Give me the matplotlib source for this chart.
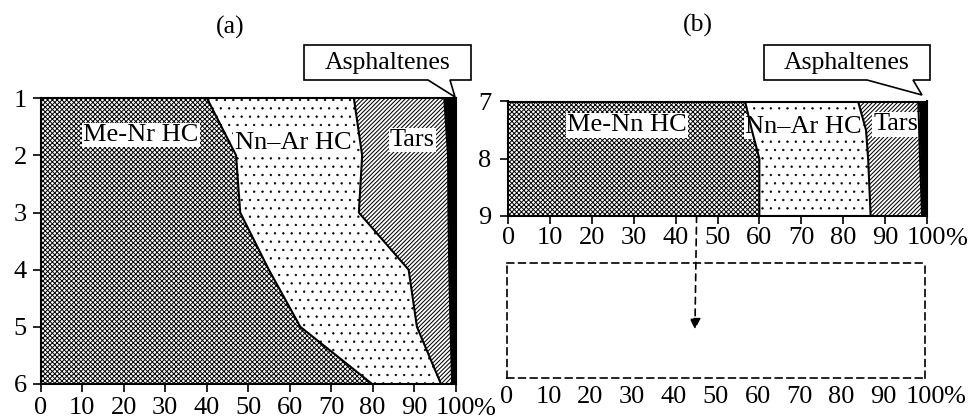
import numpy as np
import matplotlib as mpl
import matplotlib.pyplot as plt
from matplotlib.patches import Polygon, ConnectionPatch

plt.rcParams['font.family'] = ['Liberation Serif', 'DejaVu Serif']
plt.rcParams['font.size'] = 19
plt.rcParams['hatch.linewidth'] = 0.75

# group composition (%) vs depth
depth_a = [1, 2, 3, 4, 5, 6]
me_a = [40.1, 47.1, 48.1, 55.0, 62.6, 79.9]
nnar_a = [35.4, 30.4, 28.6, 33.7, 28.1, 16.6]
tars_a = [21.8, 20.7, 21.6, 9.8, 8.1, 2.7]
asph_a = [2.7, 1.8, 1.7, 1.5, 1.2, 0.8]

depth_b = [7, 7.5, 8, 9]
me_b = [56.6, 58.2, 60.0, 60.0]
nnar_b = [27.0, 27.3, 26.0, 26.6]
tars_b = [14.4, 12.7, 12.4, 12.3]
asph_b = [2.0, 1.8, 1.6, 1.1]

xticks = [0, 10, 20, 30, 40, 50, 60, 70, 80, 90, 100]
labels_a = ['Me-Nr HC', 'Nn–Ar HC', 'Tars']
labels_b = ['Me-Nn HC', 'Nn–Ar HC', 'Tars']
hatches = ['xxxxxxx', '..', '////////', None]
hatch_lw = [0.7, 0.45, 0.75, 0.75]

W, H = 968, 420
fig = plt.figure(figsize=(W / 100, H / 100), dpi=100)


def px_axes(l, t, r, b):
    return fig.add_axes([l / W, 1 - b / H, (r - l) / W, (b - t) / H])


def panel(ax, depth, parts, names, pos, pad_y):
    edges = np.vstack([np.zeros(len(depth)), np.cumsum(parts, axis=0)])
    edges[-1] = 100
    for i in range(4):
        if hatches[i] is None:
            ax.fill_betweenx(depth, edges[i], edges[i + 1], color='black', lw=0)
        else:
            with mpl.rc_context({'hatch.linewidth': hatch_lw[i]}):
                pc = ax.fill_betweenx(depth, edges[i], edges[i + 1], facecolor='white',
                                      edgecolor='black', hatch=hatches[i], lw=0)
            if hasattr(pc, 'set_hatch_linewidth'):
                pc.set_hatch_linewidth(hatch_lw[i])
    for i in range(1, 4):
        ax.plot(edges[i], depth, color='black', lw=1.5, zorder=5)
    for name, (x, y) in zip(names, pos):
        ax.text(x, y, name, ha='center', va='center', zorder=4,
                bbox=dict(fc='white', ec='none', pad=1))
    ax.set_xlim(0, 100)
    ax.set_ylim(depth[-1], depth[0])
    ax.set_xticks(xticks)
    ax.set_xticklabels([str(t) for t in xticks])
    ax.set_yticks(range(int(depth[0]), int(depth[-1]) + 1))
    ax.tick_params(direction='out', length=6, width=1.2)
    ax.tick_params(axis='y', pad=pad_y)
    for sp in ax.spines.values():
        sp.set_linewidth(1.5)
        sp.set_zorder(6)


def pct(ax, dy):
    ax.annotate('%', xy=(100, 0), xycoords=ax.get_xaxis_transform(),
                xytext=(13, dy), textcoords='offset points', ha='left', va='top')


ax_a = px_axes(40.7, 98.3, 455.5, 384)
ax_b = px_axes(508.3, 101.5, 926.7, 215.7)
ax_c = px_axes(506.7, 262.7, 925, 377.7)

panel(ax_a, depth_a, [me_a, nnar_a, tars_a, asph_a], labels_a,
      [(24.2, 1.64), (60.8, 1.79), (89.6, 1.73)], 4)
ax_a.tick_params(axis='x', pad=3)
pct(ax_a, -10)

panel(ax_b, depth_b, [me_b, nnar_b, tars_b, asph_b], labels_b,
      [(28.3, 7.42), (70.6, 7.44), (92.7, 7.4)], 6)
ax_b.tick_params(axis='x', pad=2)
pct(ax_b, -9)

ax_c.set_xlim(0, 100)
ax_c.set_ylim(0, 1)
ax_c.set_xticks(xticks)
ax_c.set_xticklabels([str(t) for t in xticks])
ax_c.set_yticks([])
ax_c.tick_params(length=0, pad=6)
for sp in ax_c.spines.values():
    sp.set_linestyle((0, (4, 3)))
    sp.set_linewidth(1.2)
pct(ax_c, -6)

arrow = ConnectionPatch(xyA=(45, 0), coordsA=ax_b.get_xaxis_transform(),
                        xyB=(45, 0.42), coordsB=ax_c.get_xaxis_transform(),
                        arrowstyle='-|>', linestyle=(0, (4, 3)), lw=1.2,
                        color='black', mutation_scale=16)
fig.add_artist(arrow)


# callout boxes for asphaltenes (pixel layout, top-left origin)
def callout(l, t, r, b, w1, w2, tip):
    pts = [(l, t), (r, t), (r, b), (w2, b), tip, (w1, b), (l, b)]
    pts = [(x / W, 1 - y / H) for x, y in pts]
    fig.add_artist(Polygon(pts, closed=True, transform=fig.transFigure,
                           fc='white', ec='black', lw=1.2))
    fig.text((l + r) / 2 / W, 1 - (t + b) / 2 / H, 'Asphaltenes',
             ha='center', va='center', fontsize=18.5)


callout(304, 45, 471, 80, 428, 450, (455, 97))
callout(764, 45, 930, 80, 867, 913, (922, 95))

fig.text(230 / W, 1 - 27 / H, '(a)', ha='center', va='center', fontsize=18.5)
fig.text(698 / W, 1 - 25 / H, '(b)', ha='center', va='center', fontsize=18.5)

fig.savefig('out.png', dpi=100)
